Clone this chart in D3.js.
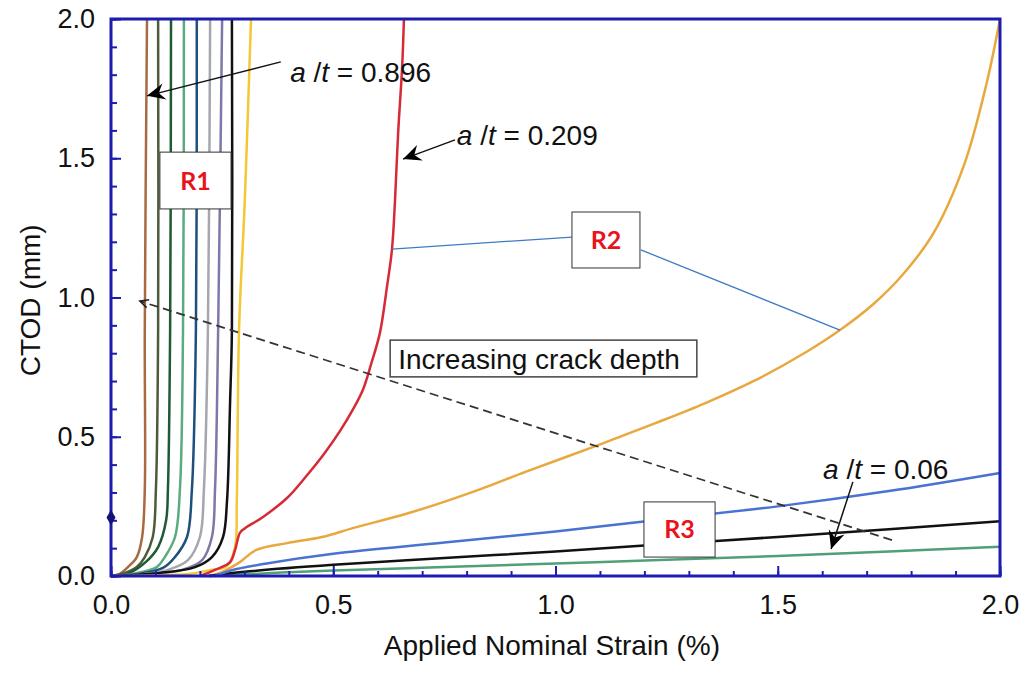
<!DOCTYPE html>
<html>
<head>
<meta charset="utf-8">
<script src="https://cdnjs.cloudflare.com/ajax/libs/d3/7.8.5/d3.min.js"></script>
<style>
body{margin:0;background:#fff;}
svg{display:block;font-family:"Liberation Sans",Arial,sans-serif;}
</style>
</head>
<body>
<svg></svg>
<script>
// tick values / labels
var xTicks = [0, 0.5, 1.0, 1.5, 2.0];
var xTickLabels = ["0.0", "0.5", "1.0", "1.5", "2.0"];
var yTicks = [0, 0.5, 1.0, 1.5, 2.0];
var yTickLabels = ["0.0", "0.5", "1.0", "1.5", "2.0"];

// R1 group: deep cracks, a/t = 0.896 first
var r1Brown = [[0,0],[0.02,0.008],[0.038,0.032],[0.058,0.068],[0.070,0.14],[0.076,0.31],[0.076,0.88],[0.081,2.0]];
var r1Olive = [[0,0],[0.03,0.01],[0.058,0.032],[0.076,0.068],[0.094,0.14],[0.101,0.31],[0.106,0.88],[0.106,2.0]];
var r1DarkGreen = [[0,0],[0.04,0.01],[0.076,0.047],[0.106,0.104],[0.124,0.2],[0.128,0.31],[0.133,0.88],[0.135,2.0]];
var r1SeaGreen = [[0,0],[0.05,0.008],[0.103,0.032],[0.121,0.068],[0.144,0.14],[0.155,0.31],[0.162,0.88],[0.164,2.0]];
var r1Navy = [[0,0],[0.06,0.007],[0.117,0.029],[0.144,0.068],[0.171,0.14],[0.182,0.31],[0.191,0.88],[0.193,2.0]];
var r1Gray = [[0,0],[0.07,0.006],[0.128,0.022],[0.173,0.057],[0.2,0.14],[0.209,0.31],[0.218,0.88],[0.223,2.0]];
var r1Purple = [[0,0],[0.08,0.006],[0.16,0.022],[0.205,0.057],[0.227,0.14],[0.234,0.31],[0.241,0.88],[0.25,2.0]];
var r1Black = [[0,0],[0.11,0.011],[0.189,0.032],[0.227,0.068],[0.252,0.14],[0.261,0.27],[0.268,0.63],[0.272,0.88],[0.272,2.0]];
var r1Yellow = [[0,0],[0.173,0.007],[0.218,0.02],[0.261,0.036],[0.279,0.104],[0.283,0.27],[0.288,0.88],[0.301,1.35],[0.315,2.0]];

// R2 group
var r2Red = [[0.2,0],[0.234,0.022],[0.268,0.05],[0.279,0.093],[0.29,0.155],[0.3,0.17],[0.342,0.212],[0.396,0.28],[0.44,0.36],[0.48,0.44],[0.515,0.52],[0.545,0.6],[0.567,0.67],[0.585,0.76],[0.605,0.873],[0.621,1.04],[0.632,1.171],[0.639,1.35],[0.646,1.591],[0.655,1.828],[0.659,2.0]];
var r2Orange = [[0.22,0],[0.245,0.011],[0.29,0.05],[0.326,0.093],[0.396,0.118],[0.475,0.14],[0.544,0.172],[0.67,0.226],[0.819,0.305],[0.934,0.375],[1.093,0.468],[1.222,0.547],[1.336,0.62],[1.451,0.704],[1.566,0.806],[1.64,0.883],[1.714,0.975],[1.78,1.08],[1.85,1.23],[1.92,1.48],[1.97,1.77],[2.0,2.0]];

// R3 group: shallow cracks
var r3Blue = [[0.234,0],[0.27,0.02],[0.35,0.045],[0.5,0.08],[0.75,0.12],[1.0,0.16],[1.25,0.205],[1.5,0.25],[1.75,0.305],[2.0,0.37]];
var r3Black = [[0.22,0],[0.3,0.015],[0.5,0.04],[0.75,0.065],[1.0,0.088],[1.25,0.115],[1.5,0.14],[1.75,0.168],[2.0,0.197]];
var r3Green = [[0.22,0],[0.5,0.02],[0.75,0.032],[1.0,0.045],[1.25,0.058],[1.5,0.072],[1.75,0.088],[2.0,0.105]];

var curves = [r1Brown, r1Olive, r1DarkGreen, r1SeaGreen, r1Navy, r1Gray, r1Purple, r1Black, r1Yellow,
              r2Red, r2Orange, r3Green, r3Black, r3Blue];
var curveColors = ["#a86a40", "#4f5a3a", "#1f5a34", "#5aab80", "#1f4f7c", "#a6a6ae", "#7b79a9", "#111111", "#f2c834",
                   "#d62a36", "#e9a83e", "#4f9f78", "#111111", "#4a72d0"];

var svgwidth = 1027;
var svgheight = 688;
var margins = {top:19, bottom:112, left:111, right:27};
var width = svgwidth - margins.left - margins.right;
var height = svgheight - margins.top - margins.bottom;
var frameColor = "#1c1cb0";

var svg = d3.select('svg').attr('width', svgwidth).attr('height', svgheight);

var xScale = d3.scaleLinear().domain([0,2]).range([0,width]);
var yScale = d3.scaleLinear().domain([0,2]).range([height,0]);

var defs = svg.append('defs');
defs.append('marker').attr('id','solidHead')
    .attr('viewBox','-12 -6 14 12').attr('refX',0).attr('refY',0)
    .attr('markerUnits','userSpaceOnUse').attr('markerWidth',22).attr('markerHeight',18)
    .attr('orient','auto')
    .append('path').attr('d','M0,0 L-12,-5.5 L-8,0 L-12,5.5 Z').attr('fill','#000');
defs.append('marker').attr('id','openHead')
    .attr('viewBox','-8 -5 10 10').attr('refX',0).attr('refY',0)
    .attr('markerUnits','userSpaceOnUse').attr('markerWidth',12).attr('markerHeight',12)
    .attr('orient','auto')
    .append('path').attr('d','M-7,-3.5 L0,0 L-7,3.5').attr('fill','none').attr('stroke','#222').attr('stroke-width',1.3);

var plot = svg.append('g').classed('plot',true)
    .attr('transform','translate('+margins.left+","+margins.top+")");

var line = d3.line()
    .x(function(d){return xScale(d[0]);})
    .y(function(d){return yScale(d[1]);})
    .curve(d3.curveCatmullRom.alpha(0.5));

plot.selectAll('path.curve')
    .data(curves)
    .enter()
    .append('path')
    .classed('curve',true)
    .attr('d', line)
    .attr('fill','none')
    .attr('stroke', function(d,i){return curveColors[i];})
    .attr('stroke-width', 2.5);

// ticks (inside), minor every 0.1
var minorTicks = d3.range(0, 21).map(function(i){return i/10;});

var xMinor = d3.axisBottom(xScale).tickValues(minorTicks).tickSize(-5).tickFormat('');
var xMajor = d3.axisBottom(xScale).tickValues(xTicks).tickSize(-10).tickPadding(19)
    .tickFormat(function(d,i){return xTickLabels[i];});
var yMinor = d3.axisLeft(yScale).tickValues(minorTicks).tickSize(-6).tickFormat('');
var yMajor = d3.axisLeft(yScale).tickValues(yTicks).tickSize(-10).tickPadding(16)
    .tickFormat(function(d,i){return yTickLabels[i];});

[xMinor, xMajor].forEach(function(ax){
  plot.append('g').classed('xAxis',true)
      .attr('transform','translate(0,'+height+')')
      .call(ax);
});
[yMinor, yMajor].forEach(function(ax){
  plot.append('g').classed('yAxis',true).call(ax);
});

plot.selectAll('.xAxis .domain, .yAxis .domain').remove();
plot.selectAll('.tick line').attr('stroke', frameColor).attr('stroke-width', 2);
plot.selectAll('.tick text').attr('fill','#111').style('font-size','27px')
    .style('font-family','"Liberation Sans",Arial,sans-serif');

// frame
plot.append('rect')
    .attr('x',0).attr('y',0).attr('width',width).attr('height',height)
    .attr('fill','none').attr('stroke',frameColor).attr('stroke-width',3);

// diamond marker on y axis
plot.append('path')
    .attr('d', d3.symbol().type(d3.symbolDiamond).size(70))
    .attr('transform','translate('+xScale(0)+','+yScale(0.21)+')')
    .attr('fill','#12127a');

// axis titles
svg.append('text')
    .attr('x', margins.left + xScale(0.992)).attr('y', 655)
    .attr('text-anchor','middle').style('font-size','28px').attr('fill','#111')
    .text('Applied Nominal Strain (%)');
svg.append('text')
    .attr('transform','translate(40,'+(margins.top + yScale(0.99))+') rotate(-90)')
    .attr('text-anchor','middle').style('font-size','28px').attr('fill','#111')
    .text('CTOD (mm)');

// dashed "increasing crack depth" arrow
plot.append('line')
    .attr('x1', xScale(1.757)).attr('y1', yScale(0.129))
    .attr('x2', xScale(0.065)).attr('y2', yScale(0.987))
    .attr('stroke','#333').attr('stroke-width',1.7)
    .attr('stroke-dasharray','9,5')
    .attr('marker-end','url(#openHead)');

// R2 leader lines
var leaders = [[[0.632,1.174],[1.037,1.217]], [[1.192,1.171],[1.64,0.883]]];
plot.selectAll('line.leader').data(leaders).enter().append('line').classed('leader',true)
    .attr('x1',function(d){return xScale(d[0][0]);}).attr('y1',function(d){return yScale(d[0][1]);})
    .attr('x2',function(d){return xScale(d[1][0]);}).attr('y2',function(d){return yScale(d[1][1]);})
    .attr('stroke','#3d7bc4').attr('stroke-width',1.3);

// a/t arrows and labels
var notes = [
  {text:'0.896', from:[0.382,1.846], to:[0.081,1.724], at:[0.403,1.775]},
  {text:'0.209', from:[0.774,1.566], to:[0.657,1.497], at:[0.778,1.548]},
  {text:'0.06',  from:[1.669,0.338], to:[1.62,0.097],  at:[1.602,0.347]}
];
notes.forEach(function(n){
  plot.append('line')
      .attr('x1', xScale(n.from[0])).attr('y1', yScale(n.from[1]))
      .attr('x2', xScale(n.to[0])).attr('y2', yScale(n.to[1]))
      .attr('stroke','#111').attr('stroke-width',1.5)
      .attr('marker-end','url(#solidHead)');
  var t = plot.append('text')
      .attr('x', xScale(n.at[0])).attr('y', yScale(n.at[1]))
      .style('font-size','28px').attr('fill','#111');
  t.append('tspan').style('font-style','italic').text('a');
  t.append('tspan').text(' /');
  t.append('tspan').style('font-style','italic').text('t');
  t.append('tspan').text(' = ' + n.text);
});

// "Increasing crack depth" box
plot.append('rect')
    .attr('x', xScale(0.628)).attr('y', yScale(0.847))
    .attr('width', xScale(1.318) - xScale(0.628)).attr('height', yScale(0.715) - yScale(0.847))
    .attr('fill','#fff').attr('stroke','#444').attr('stroke-width',1.5);
plot.append('text')
    .attr('x', xScale(0.646)).attr('y', yScale(0.745))
    .style('font-size','28px').attr('fill','#111')
    .text('Increasing crack depth');

// region boxes
var regionNames = ['R1','R2','R3'];
var regionBoxes = [[0.110,1.522,0.27,1.318],[1.037,1.307,1.19,1.106],[1.199,0.266,1.359,0.068]];
regionBoxes.forEach(function(b,i){
  plot.append('rect')
      .attr('x', xScale(b[0])).attr('y', yScale(b[1]))
      .attr('width', xScale(b[2]) - xScale(b[0])).attr('height', yScale(b[3]) - yScale(b[1]))
      .attr('fill','#fff').attr('stroke','#333').attr('stroke-width',1);
  plot.append('text')
      .attr('x', (xScale(b[0]) + xScale(b[2]))/2).attr('y', (yScale(b[1]) + yScale(b[3]))/2)
      .attr('dy','0.36em').attr('text-anchor','middle')
      .style('font-family','Lato, "Open Sans", sans-serif').style('font-weight','bold').style('font-size','25px')
      .attr('fill','#e8131b')
      .text(regionNames[i]);
});
</script>
</body>
</html>
